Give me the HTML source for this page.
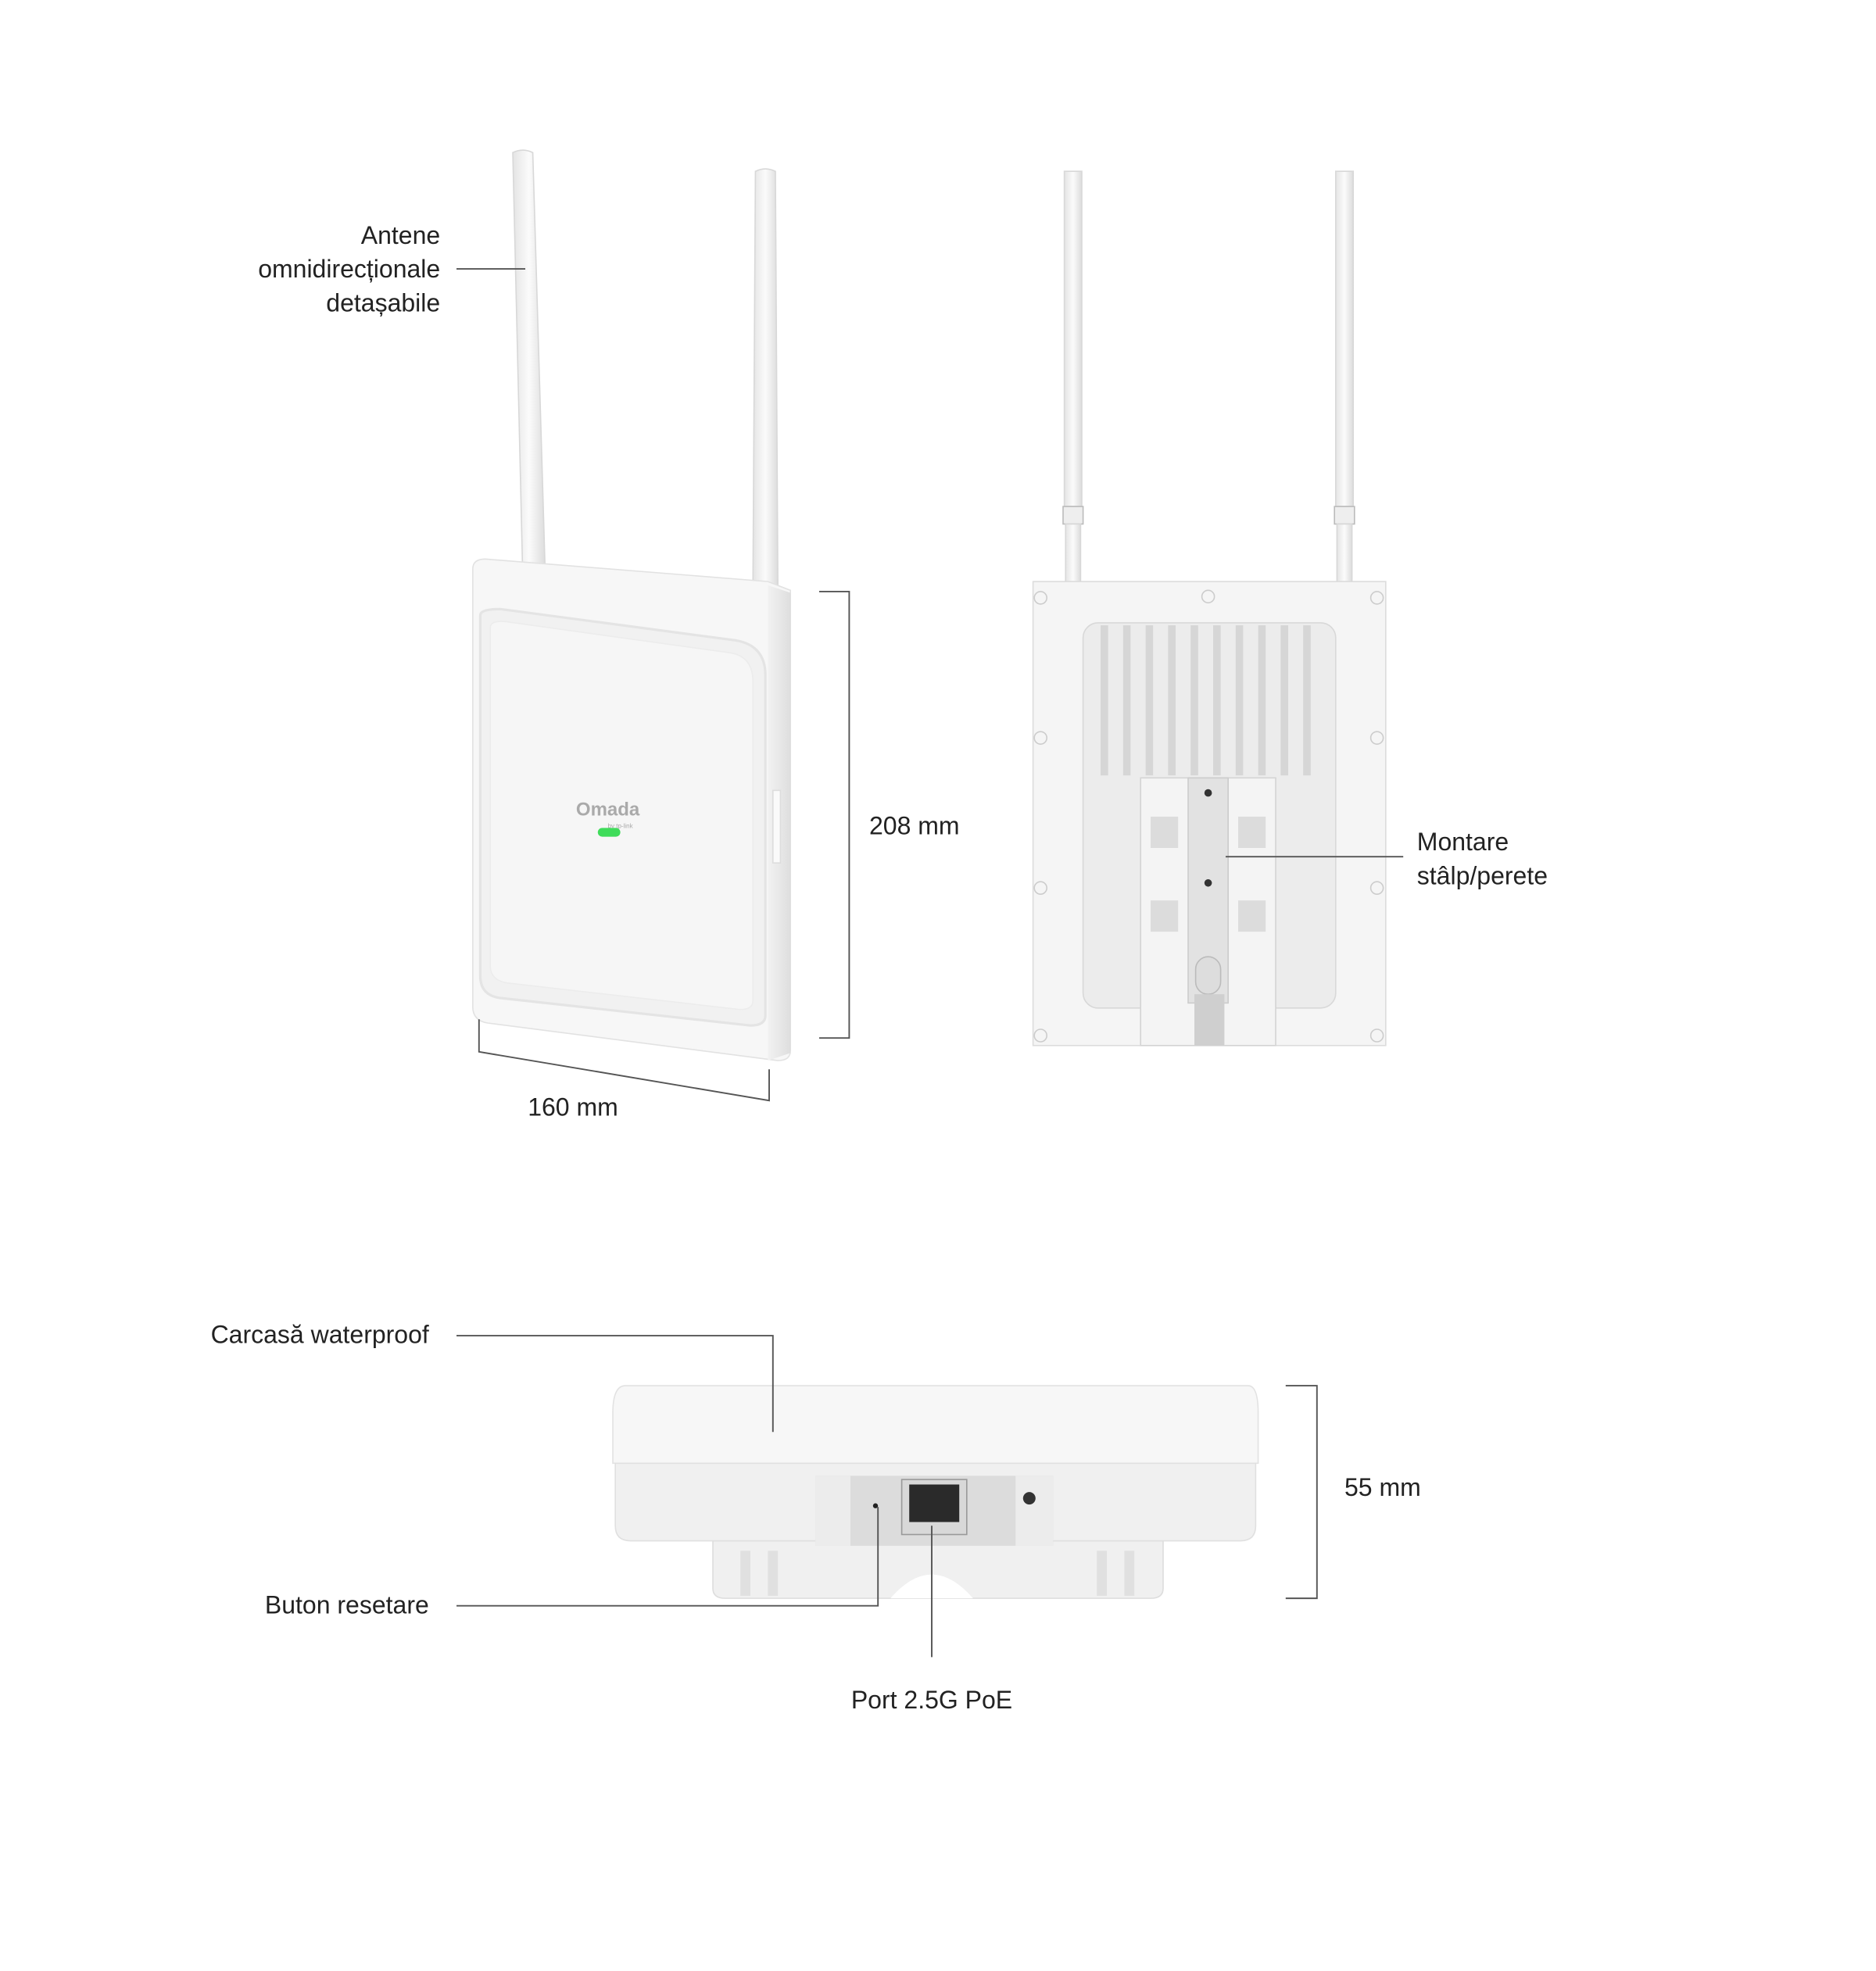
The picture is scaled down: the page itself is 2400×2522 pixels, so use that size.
<!DOCTYPE html>
<html><head><meta charset="utf-8"><style>
html,body{margin:0;padding:0;background:#fff;}
svg{display:block;}
text{font-family:"Liberation Sans",sans-serif;font-size:20px;fill:#222;}
</style></head><body>
<svg width="2400" height="2522" viewBox="0 0 1500 1576" preserveAspectRatio="none">
<defs>
<linearGradient id="ant" x1="0" x2="1"><stop offset="0" stop-color="#e4e4e4"/><stop offset=".5" stop-color="#fbfbfb"/><stop offset="1" stop-color="#dcdcdc"/></linearGradient>
<linearGradient id="side" x1="0" x2="1"><stop offset="0" stop-color="#f2f2f2"/><stop offset="1" stop-color="#dedede"/></linearGradient>
</defs>
<!-- labels -->
<g text-anchor="end">
<text x="352" y="195">Antene</text>
<text x="352" y="222">omnidirecționale</text>
<text x="352" y="249">detașabile</text>
<text x="343" y="1074">Carcasă waterproof</text>
<text x="343" y="1290">Buton resetare</text>
</g>
<text x="695" y="667">208 mm</text>
<text x="422" y="892">160 mm</text>
<text x="1133" y="680">Montare</text>
<text x="1133" y="707">stâlp/perete</text>
<text x="1075" y="1196">55 mm</text>
<text x="745" y="1366" text-anchor="middle">Port 2.5G PoE</text>

<!-- front device antennas -->
<path d="M410 122 Q418 118 426 122 L436 460 L418 462 Z" fill="url(#ant)" stroke="#d8d8d8"/>
<path d="M604 137 Q612 133 620 137 L622 472 L602 472 Z" fill="url(#ant)" stroke="#d8d8d8"/>
<!-- front body -->
<path d="M378 455 Q378 447 388 447 L614 465 L632 472 L632 840 Q632 848 622 848 L390 818 Q378 816 378 805 Z" fill="#f7f7f7" stroke="#e2e2e2"/>
<path d="M614 468 L632 474 L632 842 L614 848 Z" fill="url(#side)"/>
<path d="M384 492 Q384 487 400 487 L588 512 Q612 516 612 540 L612 812 Q612 820 600 820 L400 798 Q384 796 384 780 Z" fill="#f1f1f1" stroke="#e4e4e4" stroke-width="2"/>
<path d="M392 502 Q392 496 404 497 L584 522 Q602 525 602 545 L602 800 Q602 808 590 807 L406 786 Q392 784 392 772 Z" fill="#f6f6f6" stroke="#ececec"/>
<text x="486" y="652" text-anchor="middle" style="font-size:15px;fill:#aaa;font-weight:bold">Omada</text>
<text x="496" y="662" text-anchor="middle" style="font-size:5px;fill:#aaa">by tp-link</text>
<rect x="478" y="662" width="18" height="7" rx="3.5" fill="#3fdc5a"/>
<rect x="618" y="632" width="6" height="58" fill="#fafafa" stroke="#ddd"/>
<!-- 208 bracket -->
<path d="M655 473 H679 V830 H655" fill="none" stroke="#555" stroke-width="1.2"/>
<!-- 160 bracket -->
<path d="M383 815 V841 L615 880 V855" fill="none" stroke="#555" stroke-width="1.2"/>
<!-- antenna leader -->
<line x1="365" y1="215" x2="420" y2="215" stroke="#555" stroke-width="1.2"/>

<!-- rear device antennas -->
<path d="M851 137 h14 v268 h-14 Z" fill="url(#ant)" stroke="#d8d8d8"/>
<rect x="850" y="405" width="16" height="14" fill="#eee" stroke="#bbb"/>
<rect x="852" y="419" width="12" height="48" fill="url(#ant)" stroke="#d8d8d8"/>
<path d="M1068 137 h14 v268 h-14 Z" fill="url(#ant)" stroke="#d8d8d8"/>
<rect x="1067" y="405" width="16" height="14" fill="#eee" stroke="#bbb"/>
<rect x="1069" y="419" width="12" height="48" fill="url(#ant)" stroke="#d8d8d8"/>
<!-- rear body -->
<rect x="826" y="465" width="282" height="371" fill="#f5f5f5" stroke="#dcdcdc"/>
<g fill="none" stroke="#ccc"><circle cx="832" cy="478" r="5"/><circle cx="1101" cy="478" r="5"/><circle cx="966" cy="477" r="5"/><circle cx="832" cy="590" r="5"/><circle cx="1101" cy="590" r="5"/><circle cx="832" cy="710" r="5"/><circle cx="1101" cy="710" r="5"/><circle cx="832" cy="828" r="5"/><circle cx="1101" cy="828" r="5"/></g>
<rect x="866" y="498" width="202" height="308" rx="12" fill="#ececec" stroke="#d8d8d8"/>
<g fill="#d6d6d6">
<rect x="880" y="500" width="6" height="120"/><rect x="898" y="500" width="6" height="120"/><rect x="916" y="500" width="6" height="120"/><rect x="934" y="500" width="6" height="120"/><rect x="952" y="500" width="6" height="120"/><rect x="970" y="500" width="6" height="120"/><rect x="988" y="500" width="6" height="120"/><rect x="1006" y="500" width="6" height="120"/><rect x="1024" y="500" width="6" height="120"/><rect x="1042" y="500" width="6" height="120"/>
</g>
<rect x="912" y="622" width="108" height="214" fill="#f4f4f4" stroke="#d4d4d4"/>
<rect x="950" y="622" width="32" height="180" fill="#e2e2e2" stroke="#ccc"/>
<g fill="#dcdcdc"><rect x="920" y="653" width="22" height="25"/><rect x="990" y="653" width="22" height="25"/><rect x="920" y="720" width="22" height="25"/><rect x="990" y="720" width="22" height="25"/></g>
<circle cx="966" cy="634" r="3" fill="#333"/><circle cx="966" cy="706" r="3" fill="#333"/>
<rect x="956" y="765" width="20" height="30" rx="10" fill="#ddd" stroke="#bbb"/>
<rect x="955" y="795" width="24" height="41" fill="#cfcfcf"/>
<line x1="980" y1="685" x2="1122" y2="685" stroke="#555" stroke-width="1.2"/>

<!-- bottom device -->
<path d="M570 1232 H930 V1270 Q930 1278 920 1278 H580 Q570 1278 570 1270 Z" fill="#f0f0f0" stroke="#ddd"/>
<path d="M712 1278 Q745 1240 778 1278 Z" fill="#fff"/>
<g fill="#e0e0e0"><rect x="592" y="1240" width="8" height="36"/><rect x="614" y="1240" width="8" height="36"/><rect x="877" y="1240" width="8" height="36"/><rect x="899" y="1240" width="8" height="36"/></g>
<path d="M500 1108 H998 Q1006 1108 1006 1130 V1170 H490 V1130 Q490 1108 500 1108 Z" fill="#f7f7f7" stroke="#e2e2e2"/>
<path d="M492 1170 H1004 V1220 Q1004 1232 992 1232 H504 Q492 1232 492 1220 Z" fill="#f0f0f0" stroke="#e0e0e0"/>
<rect x="652" y="1180" width="190" height="56" fill="#dcdcdc"/>
<rect x="652" y="1180" width="28" height="56" fill="#ececec"/><rect x="812" y="1180" width="30" height="56" fill="#ececec"/>
<rect x="721" y="1183" width="52" height="44" fill="#d8d8d8" stroke="#999"/>
<rect x="727" y="1187" width="40" height="30" fill="#2a2a2a"/>
<circle cx="700" cy="1204" r="2" fill="#222"/>
<circle cx="823" cy="1198" r="5" fill="#333"/>
<!-- leaders bottom -->
<path d="M365 1068 H618 V1145" fill="none" stroke="#555" stroke-width="1.2"/>
<path d="M365 1284 H702 V1205" fill="none" stroke="#555" stroke-width="1.2"/>
<line x1="745" y1="1220" x2="745" y2="1325" stroke="#555" stroke-width="1.2"/>
<path d="M1028 1108 H1053 V1278 H1028" fill="none" stroke="#555" stroke-width="1.2"/>
</svg>
</body></html>
